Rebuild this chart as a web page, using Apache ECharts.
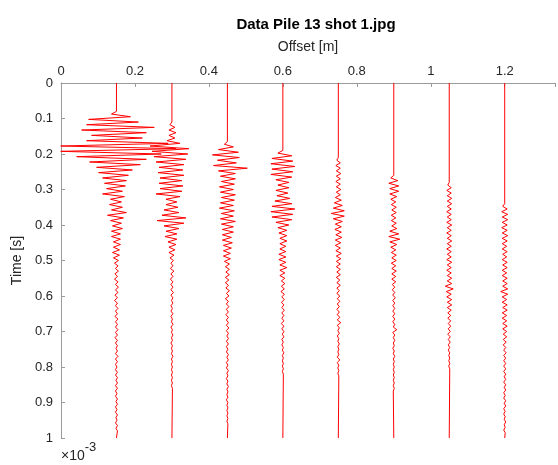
<!DOCTYPE html>
<html>
<head>
<meta charset="utf-8">
<script src="https://cdn.jsdelivr.net/npm/echarts@6/dist/echarts.min.js"></script>
<style>
  html, body { margin: 0; padding: 0; background: #fff; }
  #chart { width: 558px; height: 465px; }
</style>
</head>
<body>
<div id="chart"></div>
<script>
// Receiver offsets [m] and the time [x1e-3 s] where each trace starts to move
const offsets = [0.15, 0.30, 0.45, 0.60, 0.75, 0.90, 1.05, 1.20];
const onsetTimes = [0.08, 0.11, 0.165, 0.19, 0.21, 0.26, 0.28, 0.34];
const sampleStep = 0.0075;   // spacing of successive wiggle extrema
const timeTicks = [0, 0.1, 0.2, 0.3, 0.4, 0.5, 0.6, 0.7, 0.8, 0.9, 1];
const offsetTicks = [0, 0.2, 0.4, 0.6, 0.8, 1, 1.2];

// Trace amplitudes (display units) at each extremum after onset
const trace1 = [0, -5, 14, -28, 22, -30, 38, -35, 30, -25, 26, -30, 52, -56, 60, -56, 45, -40, 30, -27,
  24, -20, 16, -18, 12, -14, 10, -12, 9, -10, 6, -14, 8, -6, 5, -7, 6, -5, 10, -9,
  7, -6, 5, -4, 6, -5, 4, -5, 4, -3, 4, -3, 3, -4, 3, -3, 2,
  -2, 1.5, -1, 2, -1.5, 1, -2, 1.5, -1, 2, -1, 1.5, -1.5, 1, -2, 1, -1, 1.5, -1, 1,
  -1.5, 1.5, -1, 1, -1, 1.5, -1, 1, -1.5, 1, -1, 1, -0.5, 1, -1, 1.5, -1, 1, -1, 0.5,
  -1, 1, -1, 1, -0.5, 1, -1, 1, -1, 0.5, -1, 1, -0.5, 1, -1, 0.5, -1, 1, -0.5, 0.5, -1, 1, -0.5, 1];
const trace2 = [0, -2, 3, -3, 4, -3, 3, -5, 8, -22, 17, -20, 16, -18, 14, -16, 12, -13, 11, -14,
  12, -12, 10, -13, 11, -12, 10, -16, 8, -6, 5, -6, 6, -8, 7, -10, 14, -15, 12, -8,
  7, -6, 5, -7, 5, -4, 4, -3, 3, -3, 2,
  -2, 1.5, -1, 1, -1.5, 2, -1, 1, -1.5, 1, -1, 1, -1, 1.5, -1, 1, -0.5, 1, -1, 0.5,
  -1, 1, -1, 0.5, -0.5, 1, -1, 0.5, -0.5, 1, -0.5, 0.5, -1, 0.5, -0.5, 0.5, -0.5, 1, -0.5, 0.5,
  -0.5, 0.5, -0.5, 0.5, -0.5, 0.5, -0.5, 0.5, -0.5, 0.5];
const trace3 = [0, -3, 6, -9, 11, -15, 12, -10, 9, -14, 20, -9, 8, -7, 8, -6, 7, -8, 6, -7,
  8, -6, 7, -7, 6, -8, 7, -6, 6, -7, 8, -6, 6, -5, 6, -5, 4, -5, 5, -4,
  4, -4, 3, -4, 3, -3, 2,
  -2, 2, -1.5, 2, -2, 1.5, -2, 1, -1.5, 2, -1, 1.5, -2, 1, -1, 1.5, -1, 1, -1.5, 1,
  -1, 1, -1, 1.5, -1, 1, -0.5, 1, -1, 1, -1, 0.5, -1, 1, -0.5, 1, -1, 0.5, -1, 1,
  -0.5, 0.5, -1, 0.5, -0.5, 1, -0.5, 0.5, -0.5, 0.5, -1, 0.5, -0.5, 0.5, -0.5, 0.5, -0.5, 0.5, -0.5, 0.5];
const trace4 = [0, -5, 9, -11, 10, -12, 12, -11, 10, -12, 9, -7, 6, -5, 6, -7, 5, -6, 7, -8,
  9, -11, 12, -12, 10, -11, 9, -7, 6, -5, 4, -4, 4, -3, 4, -3, 3, -3, 3, -4,
  3, -4, 3, -3, 4, -3, 2, -3, 2,
  -1.5, 2, -1.5, 1.5, -2, 1.5, -1, 1.5, -1.5, 1, -1, 1.5, -1, 1, -1, 1, -1.5, 1, -1, 1,
  -0.5, 1, -1, 0.5, -1, 0.5, -0.5, 1, -0.5, 0.5, -0.5, 0.5, -0.5, 0.5, -0.5, 0.5];
const trace5 = [0, -1.5, 2, -2.5, 2, -2, 2.5, -2, 2, -2.5, 2, -2, 2.5, -2, 2, -3, 3, -4, 4, -5,
  6, -7, 6, -5, 4, -3, 3, -3.5, 3, -2.5, 3.5, -3, 2.5, -3, 2, -2.5, 3, -2, 2.5, -2, 2,
  -2, 2, -1.5, 2, -2, 1.5, -1.5, 2, -1.5, 1, -1.5, 1.5, -1, 1.5, -1, 1, -1.5, 1, -1, 1.5,
  -1, 2.5, -1, 1, -0.5, 1, -1, 0.5, -0.5, 1, -0.5, 0.5, -0.5, 0.5, -1, 1.5, -1, 0.5, -0.5, 0.5, -0.5, 0.5];
const trace6 = [0, -3, 4, -5, 5, -4, 5, -4, 3, -3, 2, -2.5, 2.5, -2, 2.5, -2.5, 2, -2.5, 2.5, -2,
  3, -4, 5, -5, 6, -4, 3, -3, 2, -2.5, 2.5, -2, 2.5, -2.5, 2, -2, 2.5, -2, 2, -2, 2,
  -1.5, 1, -1.5, 1, -1, 1.5, -1, 1, -1, 1, -1, 1, -1, 1, -1, 1, -0.5, 3, -1, 1,
  -0.5, 1, -0.5, 0.5, -1, 0.5, -0.5, 1, -0.5, 0.5, -0.5, 0.5, -0.5, 0.5, -0.5, 0.5, -0.5, 0.5, -0.5, 0.5, -0.5];
const trace7 = [0, -1.5, 2, -2.5, 2, -2, 2.5, -2, 2.5, -2, 2, -2.5, 2, -2, 2, -2.5, 2.5, -2, 2, -2.5,
  2, -2, 2.5, -2, 2, -2.5, 2, -2, 2, -2.5, 2.5, -2, 2, -2.5, 2, -2, 2.5, -2, 2.5, -4,
  4, -3, 2, -2.5, 2.5, -2, 2.5, -2, 2, -1.5, 1.5,
  -1.5, 1.5, -1, 1.5, -1, 1, -1.5, 1, -1, 1, -1, 0.5, -1, 0.5, -0.5, 0.5, -0.5, 0.5, -0.5, 0.5];
const trace8 = [0, -2, 2.5, -3, 3, -2.5, 3, -2.5, 2.5, -3, 2.5, -2.5, 3, -2.5, 2.5, -2.5, 2, -2.5, 2.5, -2,
  2, -2.5, 2.5, -2, 2.5, -2.5, 2, -2.5, 2.5, -2, 2.5, -2, 3, -4, 3, -2.5, 2, -2.5, 2.5, -2,
  2.5, -2.5, 2, -2.5, 2, -2, 2.5, -2, 2, -1.5, 2, -1.5, 1.5,
  -1.5, 1, -1, 1.5, -1, 1, -1, 1, -1, 1, -1, 1, -0.5, 1, -1, 1, -0.5, 1, -1, 0.5,
  -1, 1, -0.5, 1, -1, 0.5, -1, 0.5, -0.5, 1, -0.5, 0.5, -1, 0.5];

const traces = [trace1, trace2, trace3, trace4, trace5, trace6, trace7, trace8];
const ampToOffset = 0.00269;   // wiggle gain: amplitude unit -> offset [m]
const timeMax = 1;

// Build a wiggle polyline for one receiver
function buildTrace(off, t0, amps) {
  const pts = [[off, 0]];
  amps.forEach((a, k) => {
    const t = t0 + k * sampleStep;
    if (t < timeMax) pts.push([off + a * ampToOffset, t]);
  });
  pts.push([off, timeMax]);
  return pts;
}

const font = 'Liberation Sans, Arial, Helvetica, sans-serif';
const axisGray = '#9a9a9a';
const textDark = '#262626';

const chart = echarts.init(document.getElementById('chart'), null, { renderer: 'canvas' });
chart.setOption({
  animation: false,
  backgroundColor: '#ffffff',
  title: {
    text: 'Data Pile 13 shot 1.jpg',
    left: 311, top: 12, textAlign: 'center',
    textStyle: { fontFamily: font, fontSize: 15, fontWeight: 'bold', color: '#000' }
  },
  grid: { left: 61, top: 83, right: 0, bottom: 27, containLabel: false },
  xAxis: {
    type: 'value', position: 'top', min: 0, max: 1.336, interval: 0.2,
    name: 'Offset [m]', nameLocation: 'middle', nameGap: 29,
    nameTextStyle: { fontFamily: font, fontSize: 14, color: textDark },
    axisLine: { show: true, lineStyle: { color: axisGray, width: 1 } },
    axisTick: { show: true, inside: true, length: 4, lineStyle: { color: axisGray } },
    axisLabel: {
      fontFamily: font, fontSize: 13, color: textDark, margin: 5,
      formatter: v => offsetTicks.some(t => Math.abs(t - v) < 1e-9) ? String(+v.toFixed(1)) : ''
    },
    splitLine: { show: false }
  },
  yAxis: {
    type: 'value', inverse: true, min: 0, max: timeMax, interval: 0.1,
    name: 'Time [s]', nameLocation: 'middle', nameGap: 36, nameRotate: 90,
    nameTextStyle: { fontFamily: font, fontSize: 14, color: textDark },
    axisLine: { show: true, lineStyle: { color: axisGray, width: 1 } },
    axisTick: { show: true, inside: true, length: 4, lineStyle: { color: axisGray } },
    axisLabel: {
      fontFamily: font, fontSize: 13, color: textDark, margin: 8,
      formatter: v => {
        const t = timeTicks.find(x => Math.abs(x - v) < 1e-9);
        return t === undefined ? '' : String(t);
      }
    },
    splitLine: { show: false }
  },
  graphic: [{
    type: 'text', left: 61, top: 441,
    style: {
      text: '{b|×10}{s|-3}',
      rich: {
        b: { fontFamily: font, fontSize: 14, fill: textDark, verticalAlign: 'bottom', lineHeight: 22 },
        s: { fontFamily: font, fontSize: 13, fill: textDark, verticalAlign: 'top', lineHeight: 22, padding: [0, 0, 9, 0] }
      }
    }
  }],
  series: traces.map((amps, i) => ({
    type: 'line',
    data: buildTrace(offsets[i], onsetTimes[i], amps),
    symbol: 'none',
    clip: true,
    lineStyle: { color: '#ff0000', width: 1 },
    emphasis: { disabled: true }
  }))
});
</script>
</body>
</html>
